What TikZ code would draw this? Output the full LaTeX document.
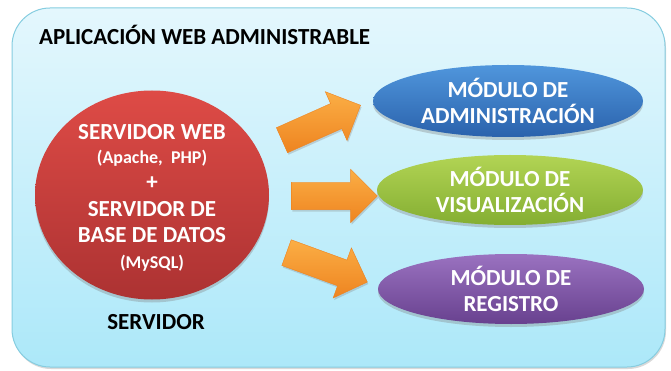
\documentclass[tikz,border=0pt]{standalone}
\usepackage{fontspec}
\setmainfont{Carlito}
\usetikzlibrary{shapes.geometric,shapes.arrows,shadows}
\definecolor{bgtop}{HTML}{E4F7FD}
\definecolor{bgbot}{HTML}{ACE8F9}
\definecolor{bgline}{HTML}{86CDE0}
\definecolor{redtop}{HTML}{DE4B46}
\definecolor{redbot}{HTML}{AC3232}
\definecolor{bluetop}{HTML}{5096DC}
\definecolor{bluebot}{HTML}{2A62AC}
\definecolor{greentop}{HTML}{B2D454}
\definecolor{greenbot}{HTML}{84AE32}
\definecolor{purpletop}{HTML}{9A72C0}
\definecolor{purplebot}{HTML}{68418F}
\definecolor{orangetop}{HTML}{FBAE45}
\definecolor{orangebot}{HTML}{EE8420}
\tikzset{
  whitetxt/.style={text=white,font=\bfseries\fontsize{23}{27}\selectfont,align=center},
  smalltxt/.style={text=white,font=\bfseries\fontsize{18}{20}\selectfont},
  modellipse/.style={ellipse,inner sep=0pt,minimum width=266pt,minimum height=70pt,
    text=white,font=\bfseries\fontsize{23}{26}\selectfont,align=center,
    drop shadow={opacity=0.35,shadow xshift=0pt,shadow yshift=-3pt}},
  orangearrow/.style={single arrow,inner sep=13.5pt,single arrow head extend=13pt,
    minimum height=86pt,top color=orangetop,bottom color=orangebot,
    draw=orangebot,line width=0.4pt,
    drop shadow={opacity=0.3,shadow xshift=1pt,shadow yshift=-2pt}},
}
\begin{document}
\begin{tikzpicture}[x=1pt,y=-1pt]
\useasboundingbox (0,0) rectangle (671,371);
\node[draw=bgline,line width=1pt,rounded corners=38pt,top color=bgtop,bottom color=bgbot,
  minimum width=653pt,minimum height=359pt,inner sep=0pt,
  drop shadow={opacity=0.3,shadow xshift=1pt,shadow yshift=-2pt}] (frame) at (338.5,187.5) {};
\node[anchor=base west,font=\bfseries\fontsize{23}{26}\selectfont,inner sep=0pt] (title) at (39,45) {APLICACIÓN WEB ADMINISTRABLE};
\node[ellipse,minimum width=234pt,minimum height=209pt,inner sep=0pt,
  top color=redtop,bottom color=redbot,
  drop shadow={opacity=0.35,shadow xshift=0pt,shadow yshift=-3pt}] (server) at (152,195) {};
\node[whitetxt,anchor=base] (s1) at (152,140) {SERVIDOR WEB};
\node[smalltxt,anchor=base] (s2) at (152,164) {(Apache,\ \ PHP)};
\node[whitetxt,anchor=base] (s3) at (152,190) {+};
\node[whitetxt,anchor=base] (s4) at (152,217) {SERVIDOR DE};
\node[whitetxt,anchor=base] (s5) at (152,243) {BASE DE DATOS};
\node[smalltxt,anchor=base] (s6) at (152,268) {(MySQL)};
\node[anchor=base,font=\bfseries\fontsize{23}{26}\selectfont,inner sep=0pt] (srvlabel) at (156,329) {SERVIDOR};
\node[modellipse,top color=bluetop,bottom color=bluebot,
  minimum width=270pt,minimum height=72pt] (adm) at (508,101) {MÓDULO DE\\ADMINISTRACIÓN};
\node[modellipse,top color=greentop,bottom color=greenbot] (vis) at (510,190) {MÓDULO DE\\VISUALIZACIÓN};
\node[modellipse,top color=purpletop,bottom color=purplebot] (reg) at (511,289) {MÓDULO DE\\REGISTRO};
\node[orangearrow,rotate=24] (a1) at (315,125.5) {};
\node[orangearrow] (a2) at (327.5,196) {};
\node[orangearrow,rotate=-20] (a3) at (320.5,265) {};
\end{tikzpicture}
\end{document}
